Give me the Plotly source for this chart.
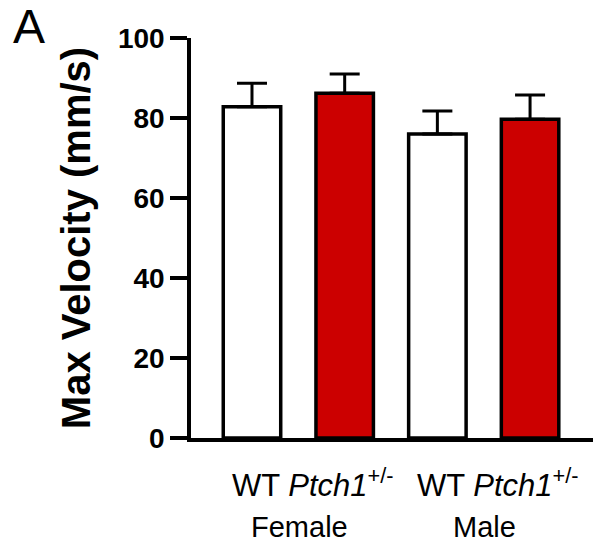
import plotly.graph_objects as go

# ---- data ----
categories = ["WT F", "Ptch1 F", "WT M", "Ptch1 M"]
means = [82.8, 86.2, 76.0, 79.7]
sem = [5.9, 4.8, 5.75, 6.05]
fill_colors = ["white", "#cc0000", "white", "#cc0000"]
genotype_label = "WT <i>Ptch1</i><sup>+/-</sup>"
groups = ["Female", "Male"]
y_ticks = [0, 20, 40, 60, 80, 100]

FONT = "Liberation Sans, Arial, Helvetica, sans-serif"

x_idx = list(range(len(categories)))

fig = go.Figure()
fig.add_trace(go.Bar(
    x=x_idx,
    y=means,
    width=0.62,
    marker=dict(color=fill_colors, line=dict(color="black", width=3.5)),
    error_y=dict(type="data", array=sem, arrayminus=[0] * len(sem),
                 symmetric=False, color="black", thickness=3, width=15),
    showlegend=False,
))

# group labels under the axis
group_centers = [sum(x_idx[2 * i:2 * i + 2]) / 2 for i in range(len(groups))]
annotations = []
for gc, g in zip(group_centers, groups):
    annotations.append(dict(x=gc, y=0, xref="x", yref="y", text=genotype_label,
                            showarrow=False, yanchor="middle", yshift=-45, xshift=14,
                            font=dict(family=FONT, size=31, color="black")))
    annotations.append(dict(x=gc, y=0, xref="x", yref="y", text=g,
                            showarrow=False, yanchor="middle", yshift=-89, xshift=1,
                            font=dict(family=FONT, size=29, color="black")))
annotations.append(dict(x=0, y=1, xref="paper", yref="paper", text="A",
                        showarrow=False, xanchor="left", yanchor="top",
                        xshift=-180, yshift=40,
                        font=dict(family=FONT, size=48, color="black")))

fig.update_layout(
    width=596, height=544,
    margin=dict(l=191, r=3, t=38, b=106, pad=0),
    paper_bgcolor="white", plot_bgcolor="white",
    font=dict(family=FONT, color="black"),
    bargap=0.35,
    annotations=annotations,
    xaxis=dict(range=[-0.658, 3.679], showticklabels=False, ticks="",
               showgrid=False, zeroline=False, showline=True,
               linecolor="black", linewidth=3.5),
    yaxis=dict(range=[0, 100], tickvals=y_ticks, ticks="outside", ticklen=17,
               tickwidth=3.5, tickcolor="black", showgrid=False, zeroline=False,
               showline=True, linecolor="black", linewidth=3.5,
               tickfont=dict(family=FONT, size=28, color="black", weight="bold"),
               title=dict(text="<b>Max Velocity (mm/s)</b>", standoff=16,
                          font=dict(family=FONT, size=40, color="black"))),
)

fig.write_html("out.html", config={"displayModeBar": False},
               post_script="document.body.style.margin='0';document.body.style.padding='0';")
